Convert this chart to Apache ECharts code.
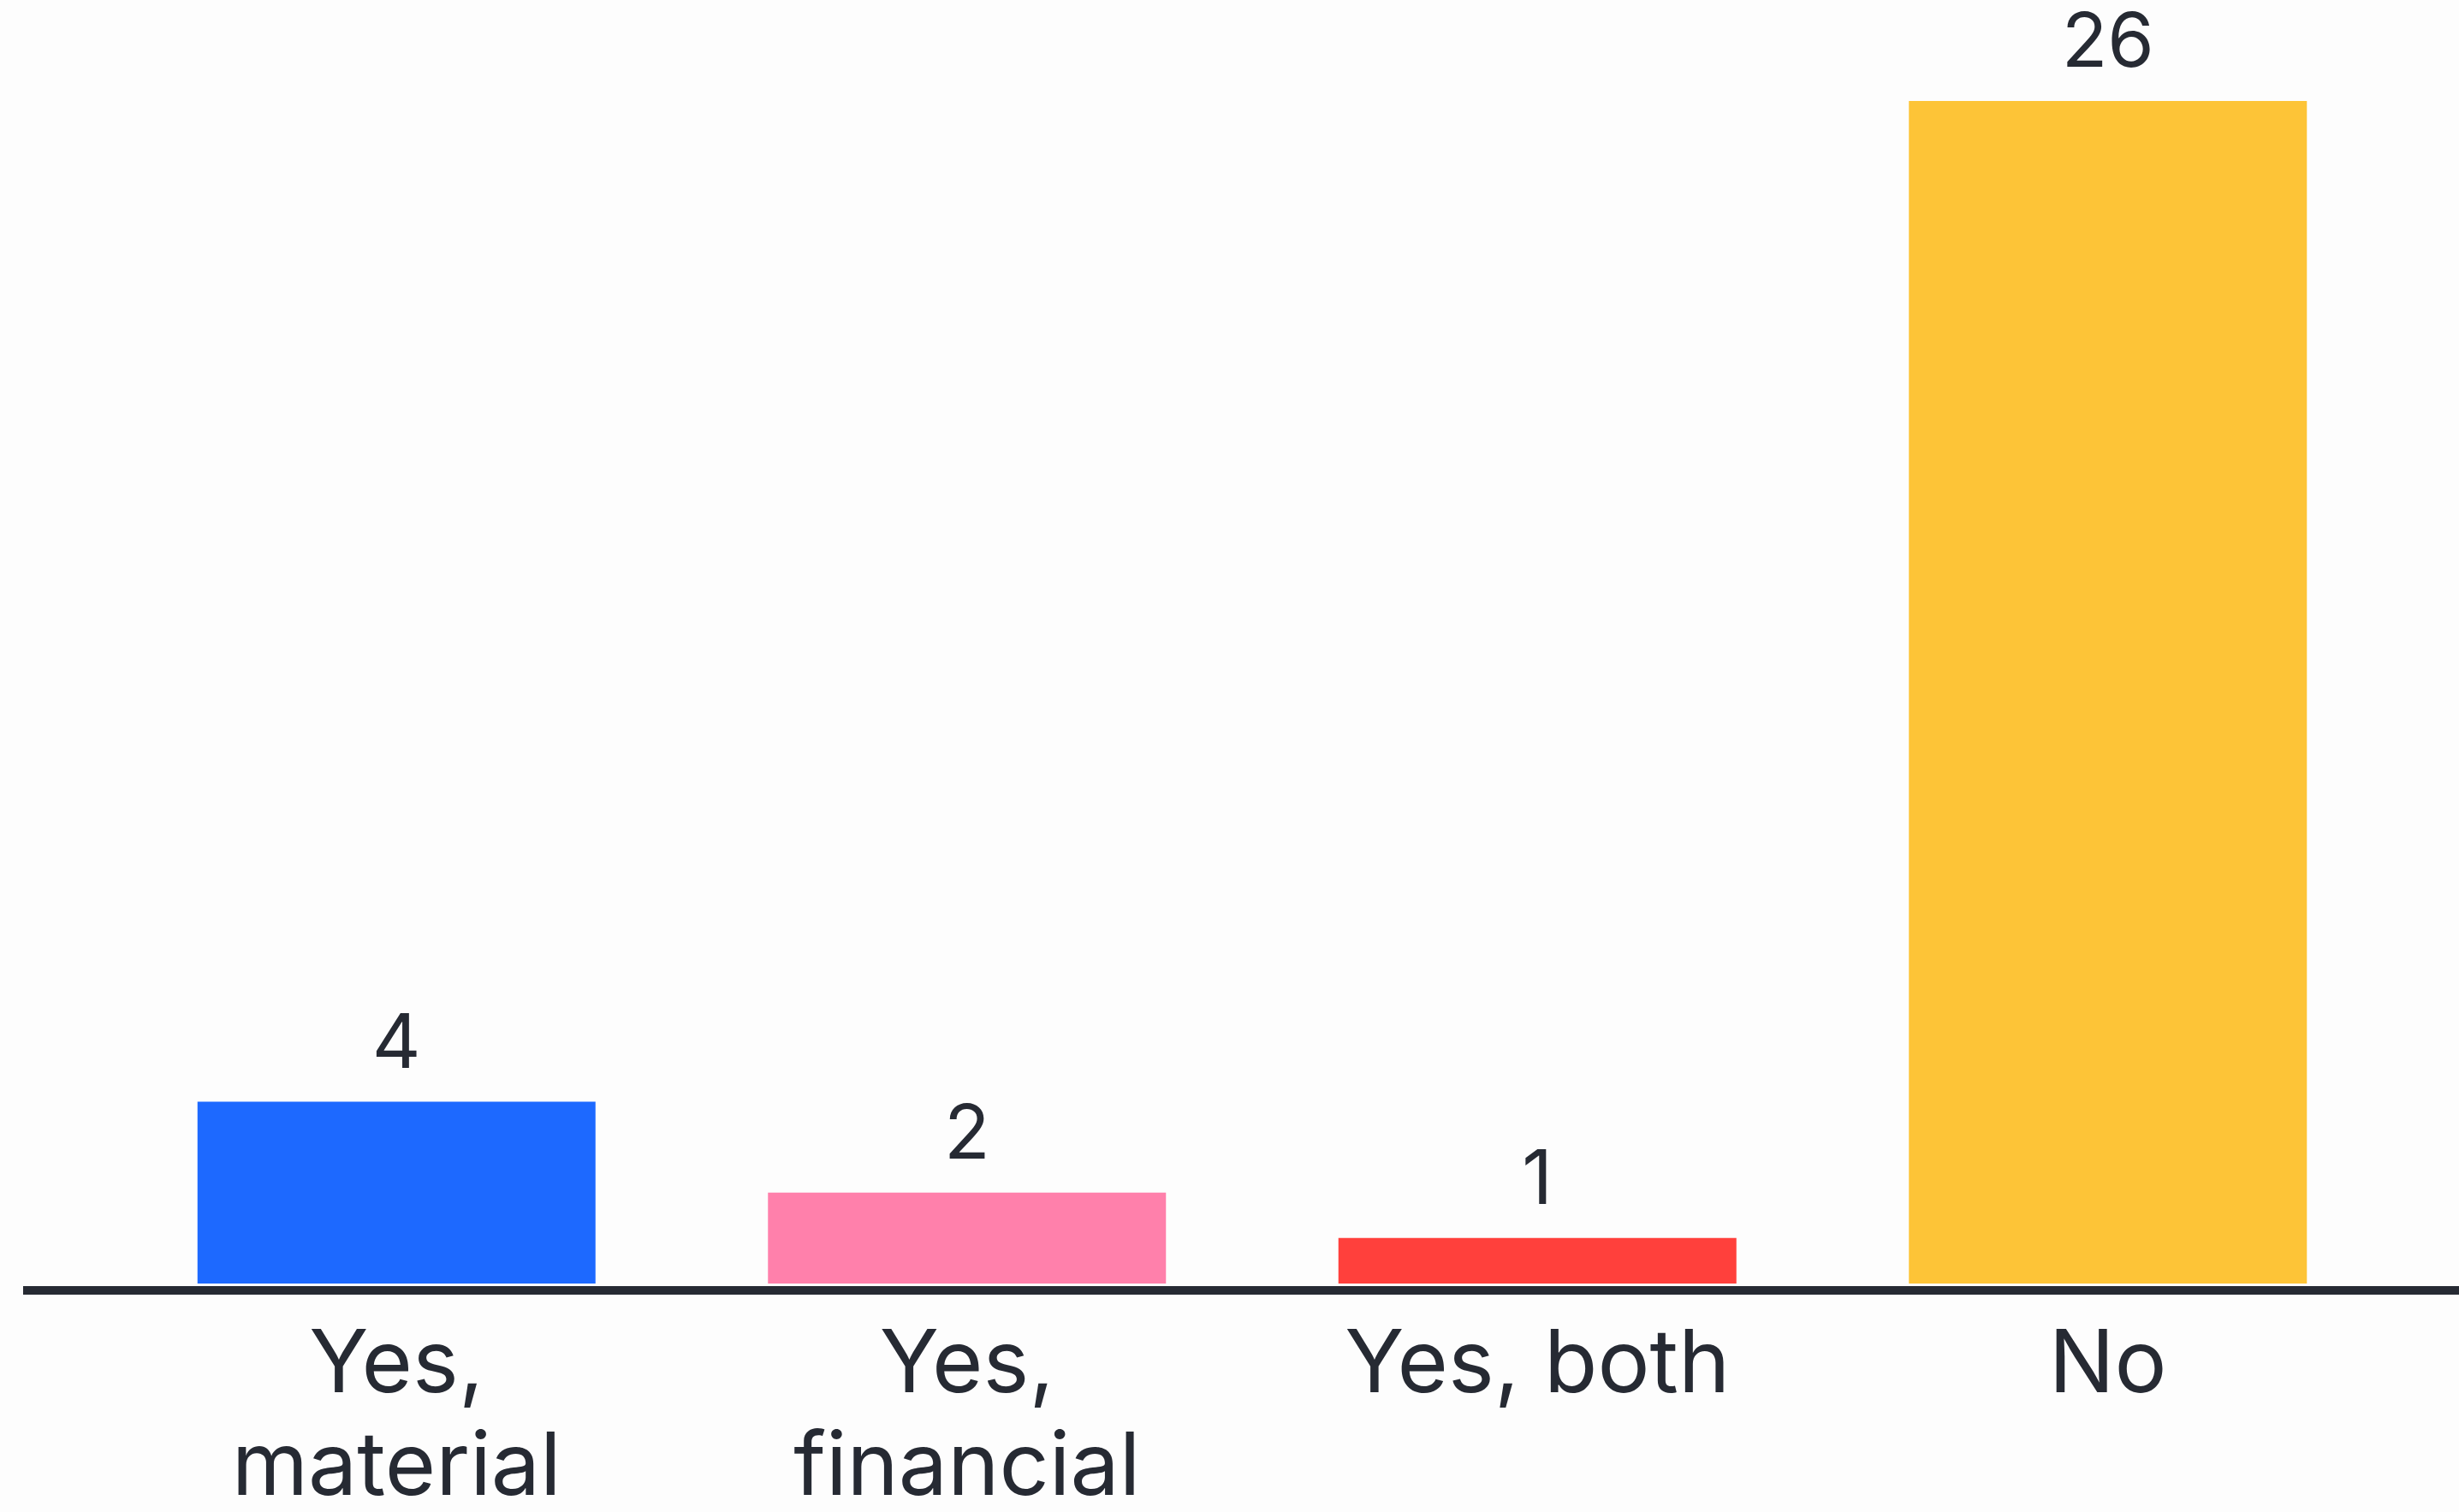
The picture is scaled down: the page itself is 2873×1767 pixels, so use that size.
<!DOCTYPE html>
<html>
<head>
<meta charset="utf-8">
<script src="https://cdn.jsdelivr.net/npm/echarts@6/dist/echarts.min.js"></script>
<style>
  html, body { margin: 0; padding: 0; background: #fdfdfd; }
  #chart { width: 2873px; height: 1767px; }
</style>
</head>
<body>
<div id="chart"></div>
<script>
const categories = ["Yes,\nmaterial", "Yes,\nfinancial", "Yes, both", "No"];
const values = [4, 2, 1, 26];
const barColors = ["#1d69ff", "#ff80ab", "#ff403c", "#fdc437"];

const textColor = "#262a33";
const fontFamily = "Inter, Lato, sans-serif";

const chart = echarts.init(document.getElementById("chart"));

const options = {
  backgroundColor: "#fdfdfd",
  animation: false,
  grid: {
    left: 130,
    right: 77,
    top: 118,
    bottom: 267,
    containLabel: false,
    outerBoundsMode: "none",
  },
  xAxis: {
    type: "category",
    data: categories,
    axisTick: { show: false },
    axisLine: { show: false },
    axisLabel: {
      interval: 0,
      margin: 36,
      color: textColor,
      fontSize: 102,
      lineHeight: 120,
      fontFamily: fontFamily,
    },
  },
  yAxis: {
    type: "value",
    min: 0,
    max: 26,
    show: false,
    splitLine: { show: false },
  },
  series: [
    {
      type: "bar",
      barWidth: 465,
      data: values.map((v, i) => ({
        value: v,
        itemStyle: { color: barColors[i] },
      })),
      label: {
        show: true,
        position: "top",
        distance: 22,
        color: textColor,
        fontSize: 88,
        fontFamily: fontFamily,
      },
    },
  ],
  // baseline runs wider than the plot area
  graphic: [
    {
      type: "line",
      shape: { x1: 27, y1: 1508, x2: 2873, y2: 1508 },
      style: { stroke: textColor, lineWidth: 10 },
      z: 10,
    },
  ],
};

chart.setOption(options);
</script>
</body>
</html>
